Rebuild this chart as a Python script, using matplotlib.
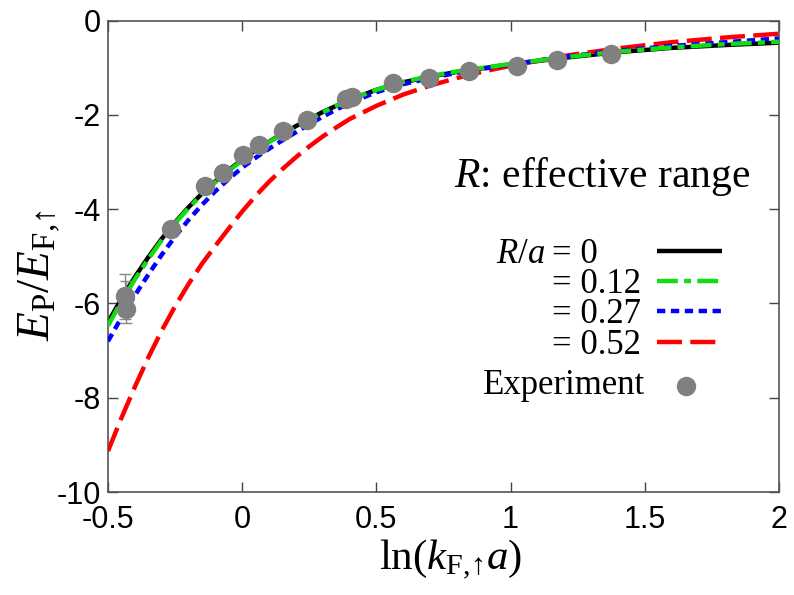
import matplotlib
matplotlib.use("Agg")
import matplotlib.pyplot as plt
import numpy as np

# ---------------- data ----------------
x_grid = [-0.5, -0.45, -0.4, -0.35, -0.3, -0.25, -0.2, -0.15, -0.1, -0.05,
          0.0, 0.05, 0.1, 0.15, 0.2, 0.25, 0.3, 0.35, 0.4,
          0.5, 0.6, 0.7, 0.8, 0.9, 1.0, 1.2, 1.4, 1.6, 1.8, 2.0]
e_R000 = [-6.40, -5.90, -5.44, -5.02, -4.63, -4.28, -3.96, -3.67, -3.41, -3.17,
          -2.95, -2.75, -2.57, -2.40, -2.24, -2.09, -1.94, -1.81, -1.68,
          -1.47, -1.31, -1.19, -1.09, -1.01, -0.93, -0.79, -0.67, -0.58, -0.52, -0.47]
e_R012 = [-6.47, -5.96, -5.49, -5.06, -4.66, -4.30, -3.98, -3.69, -3.43, -3.19,
          -2.97, -2.77, -2.58, -2.41, -2.25, -2.10, -1.95, -1.81, -1.68,
          -1.47, -1.30, -1.18, -1.08, -1.00, -0.92, -0.78, -0.66, -0.57, -0.50, -0.45]
e_R027 = [-6.80, -6.30, -5.83, -5.39, -4.97, -4.58, -4.23, -3.91, -3.62, -3.36,
          -3.12, -2.91, -2.72, -2.54, -2.37, -2.20, -2.04, -1.89, -1.75,
          -1.52, -1.35, -1.22, -1.11, -1.02, -0.93, -0.77, -0.64, -0.54, -0.46, -0.38]
e_R052 = [-9.13, -8.43, -7.77, -7.15, -6.58, -6.06, -5.59, -5.16, -4.78, -4.41,
          -4.05, -3.72, -3.42, -3.15, -2.90, -2.67, -2.46, -2.27, -2.09,
          -1.81, -1.57, -1.38, -1.22, -1.08, -0.96, -0.75, -0.59, -0.46, -0.36, -0.28]

exp_x = [-0.435, -0.433, -0.265, -0.139, -0.07, 0.004, 0.064, 0.153, 0.24,
         0.387, 0.41, 0.563, 0.697, 0.846, 1.025, 1.174, 1.376]
exp_y = [-5.85, -6.11, -4.43, -3.51, -3.24, -2.85, -2.64, -2.34, -2.10,
         -1.67, -1.63, -1.33, -1.21, -1.07, -0.97, -0.84, -0.72]
err_x = [-0.435, -0.433]
err_y = [-5.85, -6.11]
err_lo = [0.48, 0.31]
err_hi = [0.47, 0.59]

x_ticks = [-0.5, 0, 0.5, 1, 1.5, 2]
x_ticklabels = ["-0.5", "0", "0.5", "1", "1.5", "2"]
y_ticks = [0, -2, -4, -6, -8, -10]
y_ticklabels = ["0", "-2", "-4", "-6", "-8", "-10"]

legend_values = ["= 0", "= 0.12", "= 0.27", "= 0.52"]

# ---------------- style ----------------
plt.rcParams['font.family'] = ['Liberation Sans', 'DejaVu Sans']
plt.rcParams['mathtext.fontset'] = 'custom'
plt.rcParams['mathtext.rm'] = 'Liberation Serif'
plt.rcParams['mathtext.it'] = 'Liberation Serif:italic'
plt.rcParams['mathtext.bf'] = 'Liberation Serif:bold'
plt.rcParams['axes.unicode_minus'] = False
plt.rcParams['lines.scale_dashes'] = False

fig = plt.figure(figsize=(7.94, 5.95), dpi=100)
ax = fig.add_axes([0.136, 0.173, 0.845, 0.7925])

lw = 3.2
l0, = ax.plot(x_grid, e_R000, color='black', lw=lw, solid_capstyle='butt', zorder=2)
l3, = ax.plot(x_grid, e_R052, color='#ff0000', lw=lw, dashes=(18, 6), zorder=3)
l2, = ax.plot(x_grid, e_R027, color='#0000ff', lw=lw, dashes=(6, 4), zorder=4)
l1, = ax.plot(x_grid, e_R012, color='#11dd11', lw=lw, dashes=(15, 4.5, 5, 4.5), zorder=5)

ax.errorbar(err_x, err_y, yerr=[err_lo, err_hi], fmt='none', ecolor='#888888',
            elinewidth=1.0, capsize=4, capthick=1.0, zorder=6)
pts, = ax.plot(exp_x, exp_y, 'o', color='#808080', markersize=14, markeredgewidth=0, zorder=7)

ax.set_xlim(-0.5, 2)
ax.set_ylim(-10, 0)
ax.set_xticks(x_ticks)
ax.set_xticklabels(x_ticklabels)
ax.set_yticks(y_ticks)
ax.set_yticklabels(y_ticklabels)
ax.tick_params(direction='in', length=7, width=1.0, color='#444444',
               top=True, right=True, labelsize=22, pad=5)
ax.tick_params(axis='x', pad=9)
for s in ax.spines.values():
    s.set_color('#555555')
    s.set_linewidth(1.2)

ax.set_xlabel(r"$\mathrm{ln}(k_{\mathrm{F{,}↑}}a)$", fontsize=31)
ax.xaxis.set_label_coords(0.51, -0.098)
ax.set_ylabel(r"$E_{\mathrm{P}}/E_{\mathrm{F{,}↑}}$", fontsize=34)
ax.yaxis.set_label_coords(-0.068, 0.46)

serif = 'Liberation Serif'
ax.text(0.957, 0.669, r"$R$: effective range", transform=ax.transAxes,
        fontsize=30, family=serif, ha='right', va='center')

# one legend per row so each key sits exactly on its text row
handles = [l0, l1, l2, l3]
key_y = [0.509, 0.446, 0.382, 0.316]
for h, yy in zip(handles, key_y):
    lg = ax.legend([h], [''], loc='center', bbox_to_anchor=(0.8666, yy),
                   frameon=False, fontsize=10, handlelength=4.7, handletextpad=0,
                   borderpad=0, borderaxespad=0, markerfirst=False)
    ax.add_artist(lg)
lg = ax.legend([pts], [''], loc='center', bbox_to_anchor=(0.861, 0.223),
               frameon=False, fontsize=10, handlelength=1.0, handletextpad=0,
               borderpad=0, borderaxespad=0, numpoints=1, markerfirst=False)

row_y = [0.504, 0.440, 0.376, 0.311]
ax.text(0.652, row_y[0], r"$R/a$", transform=ax.transAxes, fontsize=25,
        family=serif, ha='right', va='center')
for yy, lab in zip(row_y, legend_values):
    ax.text(0.662, yy, lab, transform=ax.transAxes, fontsize=25,
            family=serif, ha='left', va='center')
ax.text(0.800, 0.227, "Experiment", transform=ax.transAxes, fontsize=25,
        family=serif, ha='right', va='center')

fig.savefig("out.png", dpi=100)
